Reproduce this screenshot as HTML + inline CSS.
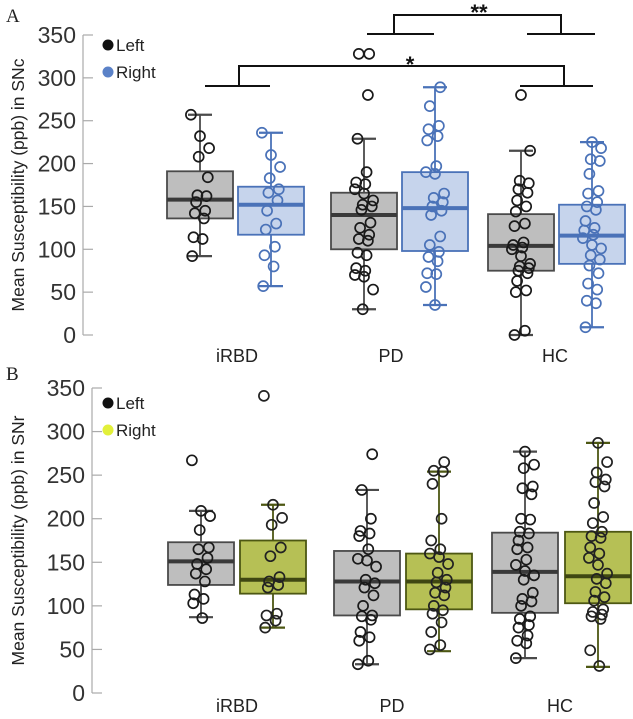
<!DOCTYPE html>
<html><head><meta charset="utf-8"><style>
body{margin:0;background:#fff;}
svg{display:block;font-family:"Liberation Sans",sans-serif;}
</style></head><body>
<svg id="chart" width="633" height="719" viewBox="0 0 633 719"></svg>
<script>
const categories=["iRBD","PD","HC"];
const ticks=[0,50,100,150,200,250,300,350];
// Panel A (SNc): [q1, median, q3, whiskerLow, whiskerHigh]
const aLeftStats=[[136,158,191,92,257],[100,140,166,30,229],[75,104,141,0,215]];
const aRightStats=[[117,152,173,57,236],[98,148,190,35,289],[83,116,152,9,225]];
const aLeftPts=[
[257,232,218,208,184,163,162,155,145,142,136,114,112,92],
[328,328,280,229,190,178,176,170,165,157,152,150,146,131,125,117,112,110,96,93,78,75,70,68,53,30],
[280,215,180,177,170,166,157,150,144,130,127,108,105,102,100,92,83,80,78,75,72,63,52,50,5,0]];
const aRightPts=[
[236,210,196,183,170,166,157,145,130,123,103,93,80,57],
[289,267,244,240,232,227,197,190,188,165,160,155,150,145,140,115,105,97,91,86,72,71,56,35],
[225,218,205,203,188,168,165,155,150,146,133,125,122,117,113,105,101,93,88,81,72,60,53,40,37,9]];
// Panel B (SNr)
const bLeftStats=[[124,151,173,87,209],[89,128,163,33,233],[92,139,184,40,277]];
const bRightStats=[[114,130,175,75,216],[96,128,160,48,254],[103,134,185,30,287]];
const bLeftPts=[
[267,209,203,187,167,165,155,148,142,137,128,113,108,103,86],
[274,233,200,186,183,180,165,154,152,145,130,126,121,112,100,89,88,84,70,64,60,37,33],
[277,262,258,237,235,228,200,199,185,183,175,167,165,153,147,140,135,130,115,108,105,100,88,85,78,75,66,60,57,40]];
const bRightPts=[
[341,216,201,193,167,157,133,128,124,121,91,89,83,75],
[265,255,254,240,200,175,165,160,156,148,138,130,127,121,115,112,100,95,91,81,70,55,50],
[287,265,253,245,242,237,218,202,195,185,180,178,167,160,155,147,137,131,126,116,110,106,96,93,90,88,85,49,31]];

const NS="http://www.w3.org/2000/svg";
const svg=document.getElementById('chart');
function mk(tag,attrs,parent,text){const e=document.createElementNS(NS,tag);for(const k in attrs)e.setAttribute(k,attrs[k]);if(text!==undefined)e.textContent=text;(parent||svg).appendChild(e);return e;}

function panel(cfg){
  const g=mk('g',{});
  
  
  const y=v=>cfg.y0-v*(cfg.y0-cfg.y350)/350;
  const ax=mk('line',{x1:cfg.axX,x2:cfg.axX,y1:y(0),y2:y(350),stroke:'#aaa','stroke-width':1.2},g);
  
  
  ticks.forEach(t=>{
    const tl=mk('line',{x1:cfg.axX,x2:cfg.axX+10,y1:y(t),y2:y(t),stroke:'#aaa','stroke-width':1.2},g);
    
    
    const tx=mk('text',{x:cfg.axX-7,y:y(t)+8,'text-anchor':'end','font-size':23,fill:'#333'},g,String(t));
    
    
  });
  const yl=mk('text',{x:0,y:0,transform:`translate(24,${(y(0)+y(350))/2}) rotate(-90)`,'text-anchor':'middle','font-size':17.5,fill:'#222'},g,cfg.ylabel);
  
  
  const pl=mk('text',{x:6,y:cfg.letterY,'font-size':19,'font-family':'"Liberation Serif",serif',fill:'#222'},g,cfg.letter);
  
  
  [['Left','#111',0],['Right',cfg.rLegend,1]].forEach(([lab,col,i])=>{
    const cy=cfg.legY+i*27;
    const c=mk('circle',{cx:108,cy:cy,r:5.5,fill:col},g);
    
    
    const t=mk('text',{x:116,y:cy+6,'font-size':17,fill:'#222'},g,lab);
    
    
  });
  categories.forEach((cat,ci)=>{
    const ct=mk('text',{x:cfg.catX[ci],y:cfg.catY,'text-anchor':'middle','font-size':18,fill:'#222'},g,cat);
    
    
    [[cfg.lStats,cfg.lPts,cfg.lBox,'#bebebe','#4a4a4a','#3a3a3a','#1a1a1a','left'],
     [cfg.rStats,cfg.rPts,cfg.rBox,cfg.rFill,cfg.rStroke,cfg.rMed,cfg.rPt,'right']].forEach(([st,pts,bx,fill,stroke,med,ptc,side])=>{
      const [q1,m,q3,lo,hi]=st[ci];
      const x0=bx[ci],w=cfg.boxW,cx=x0+w/2;
      const wl=mk('line',{x1:cx,x2:cx,y1:y(lo),y2:y(hi),stroke:stroke,'stroke-width':1.8},g);
      
      
      [lo,hi].forEach(v=>{
        const cap=mk('line',{x1:cx-12,x2:cx+12,y1:y(v),y2:y(v),stroke:stroke,'stroke-width':2.2},g);
        
        
      });
      const r=mk('rect',{x:x0,y:y(q3),width:w,height:y(q1)-y(q3),fill:fill,stroke:stroke,'stroke-width':1.8},g);
      
      
      const ml=mk('line',{x1:x0,x2:x0+w,y1:y(m),y2:y(m),stroke:med,'stroke-width':4},g);
      
      
      pts[ci].forEach((v,i)=>{
        const jit=(((i*37+ci*11)%15)-7)*1.3;
        const p=mk('circle',{cx:cx+jit,cy:y(v),r:5,fill:'none',stroke:ptc,'stroke-width':1.7},g);
        
        
      });
    });
  });
  return y;
}

panel({name:'panel-a-snc',letter:'A',letterY:22,y0:335,y350:35,axX:83,ylabel:'Mean Susceptibility (ppb) in SNc',
  legY:45,rLegend:'#5b82c8',catX:[237,391,555],catY:362,boxW:66,
  lBox:[167,331,488],rBox:[238,402,559],
  lStats:aLeftStats,rStats:aRightStats,lPts:aLeftPts,rPts:aRightPts,
  rFill:'#c6d4ec',rStroke:'#4a72b8',rMed:'#4a72b8',rPt:'#4a72b8'});
panel({name:'panel-b-snr',letter:'B',letterY:380,y0:693,y350:388,axX:92,ylabel:'Mean Susceptibility (ppb) in SNr',
  legY:403,rLegend:'#e2f03a',catX:[237,392,560],catY:712,boxW:66,
  lBox:[168,334,492],rBox:[240,406,565],
  lStats:bLeftStats,rStats:bRightStats,lPts:bLeftPts,rPts:bRightPts,
  rFill:'#b6c055',rStroke:'#4d5713',rMed:'#3f4712',rPt:'#222'});

const br=mk('g',{});


mk('path',{d:'M205 86 H270 M239 86 V66 H564 V86 M520 86 H593',fill:'none',stroke:'#111','stroke-width':2},br);
mk('path',{d:'M367 34 H434 M394 34 V15 H561 V34 M527 34 H595',fill:'none',stroke:'#111','stroke-width':2},br);
const s1=mk('text',{x:410,y:72,'text-anchor':'middle','font-size':22,'font-weight':'bold',fill:'#111'},br,'*');


const s2=mk('text',{x:479,y:20,'text-anchor':'middle','font-size':22,'font-weight':'bold',fill:'#111'},br,'**');


</script>
</body></html>
